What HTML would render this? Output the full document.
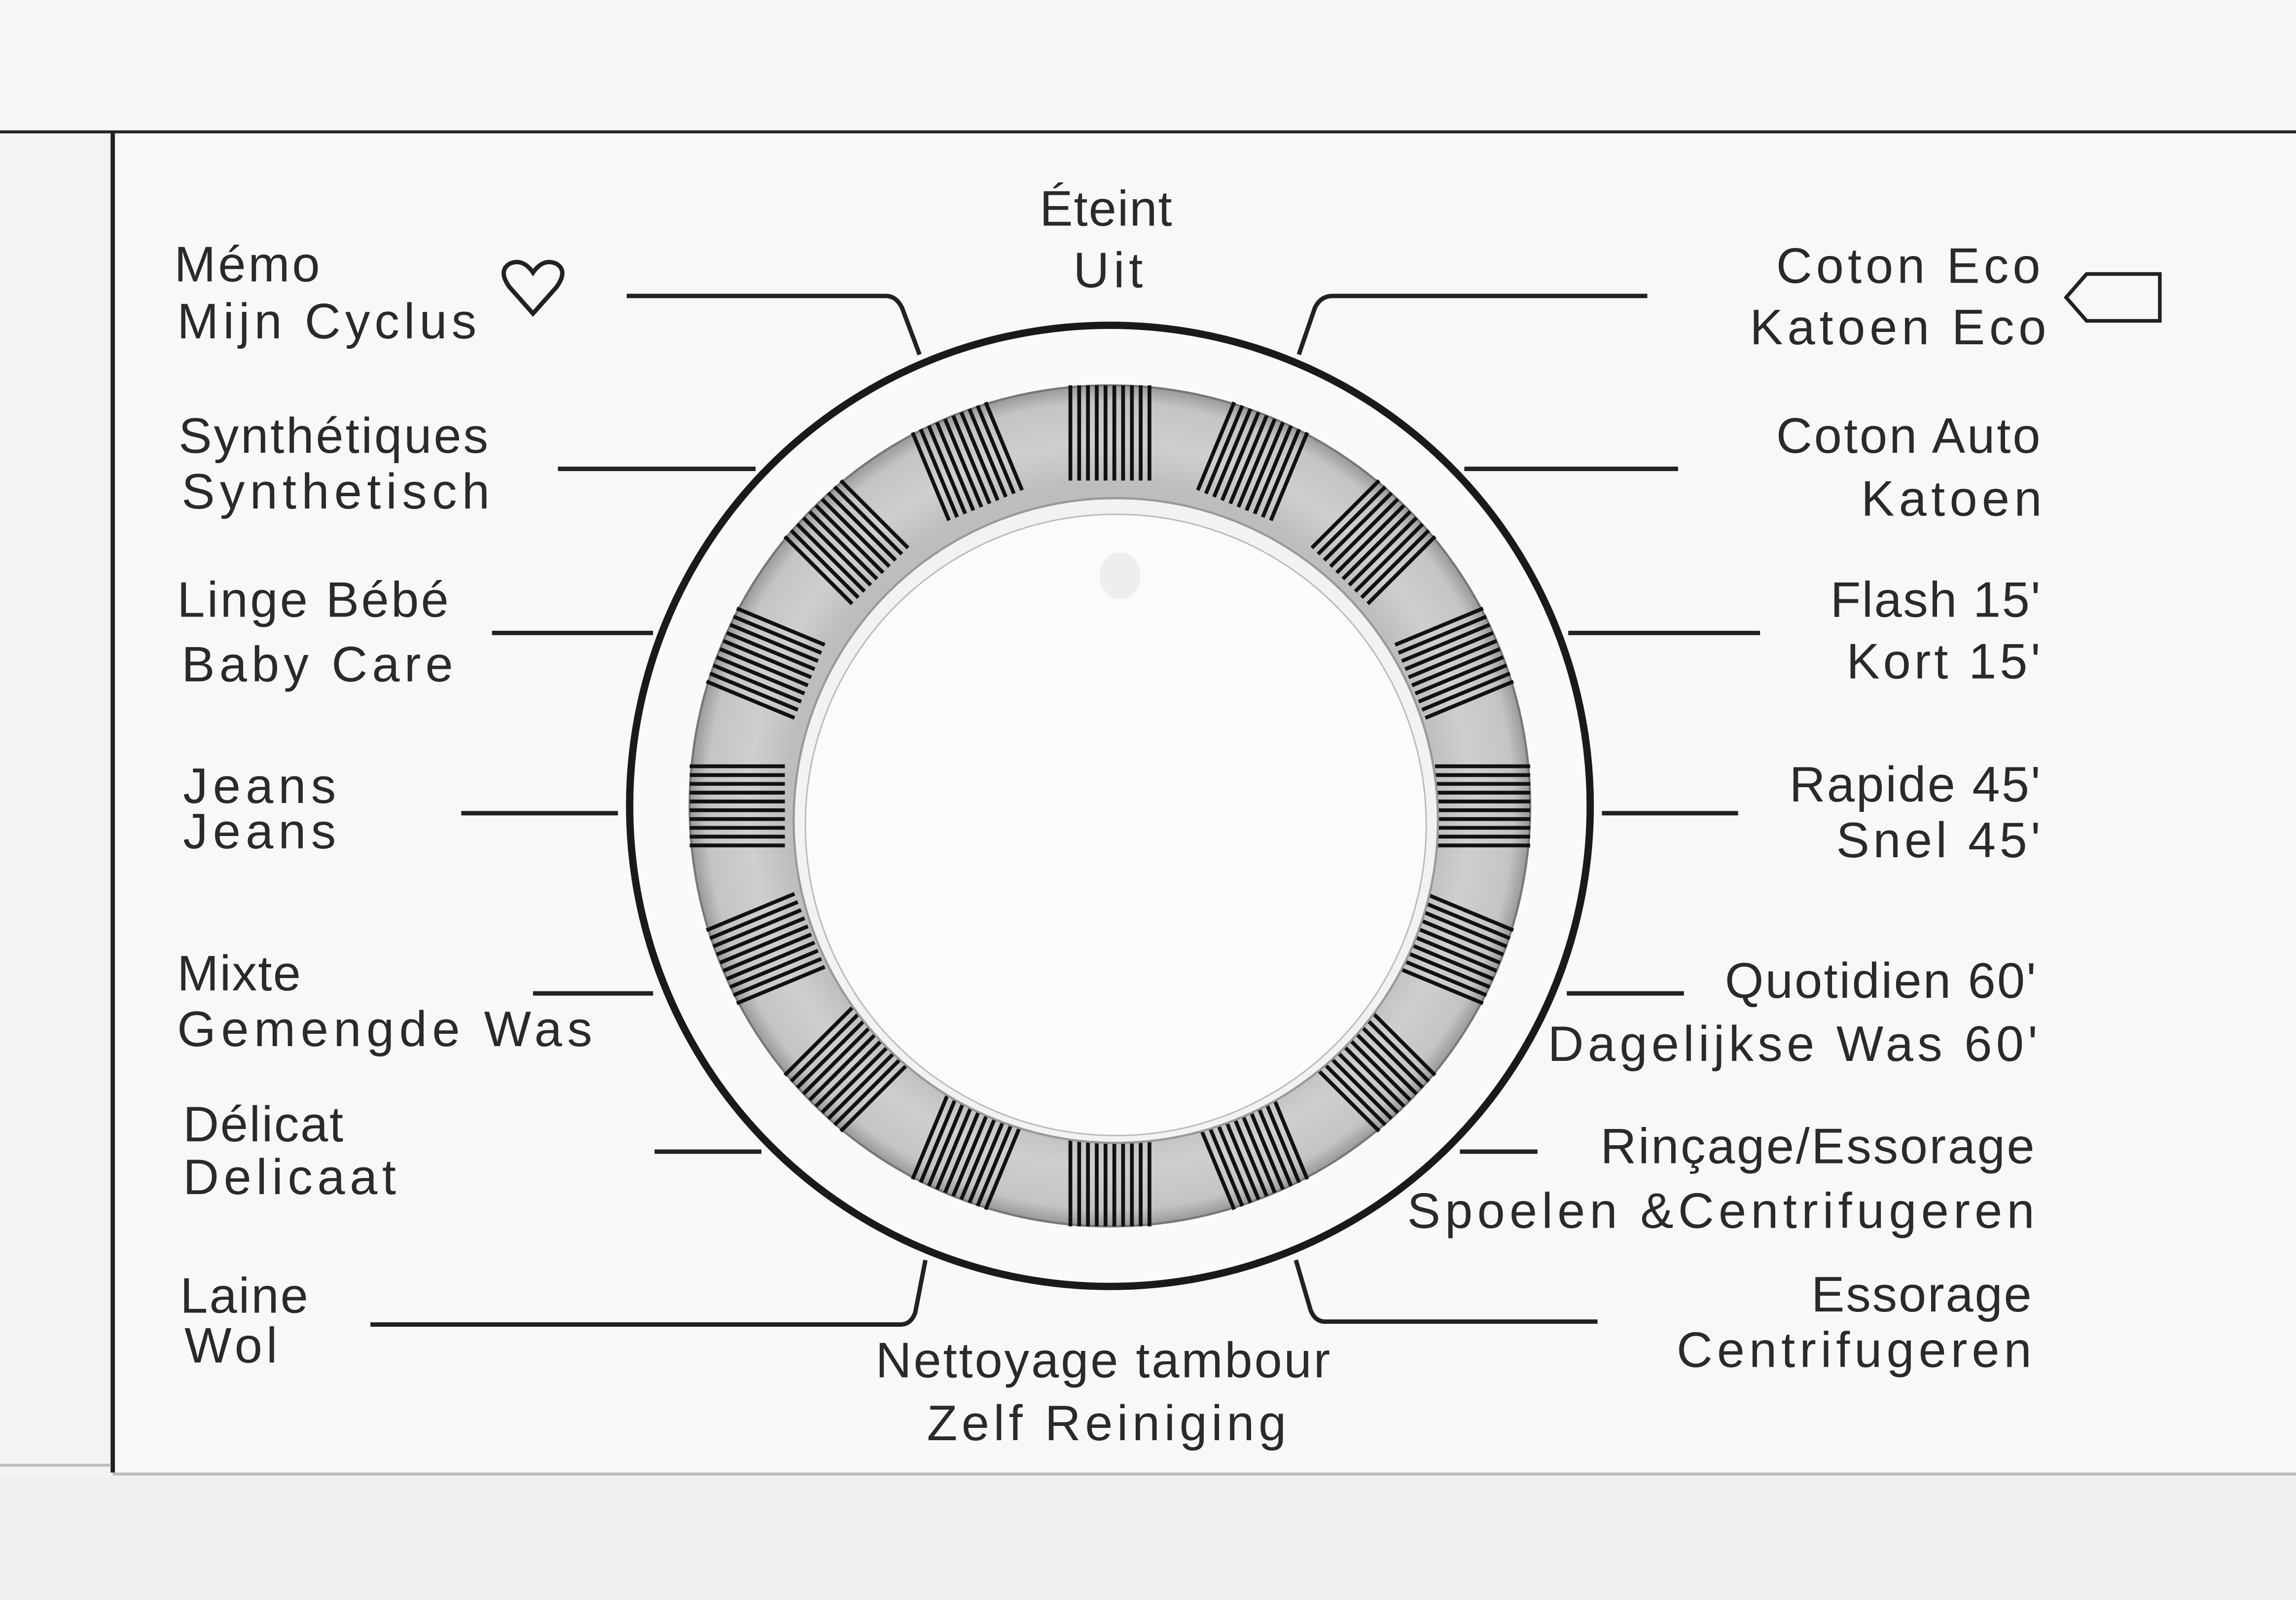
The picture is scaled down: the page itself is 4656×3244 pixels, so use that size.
<!DOCTYPE html>
<html><head><meta charset="utf-8"><style>
html,body{margin:0;padding:0;background:#f4f4f4}
svg{display:block}
text{font-family:"Liberation Sans",sans-serif;fill:#2a2a2a;font-size:34px;letter-spacing:2.6px}
</style></head><body>
<svg width="4656" height="3244" viewBox="0 0 1568 1092" preserveAspectRatio="none" xmlns="http://www.w3.org/2000/svg">
<defs>
<radialGradient id="rg" cx="758" cy="550" r="290" gradientUnits="userSpaceOnUse">
<stop offset="0.76" stop-color="#bdbdbd"/><stop offset="0.85" stop-color="#cfcfcf"/><stop offset="0.95" stop-color="#c4c4c4"/><stop offset="1" stop-color="#8e8e8e"/>
</radialGradient>
<g id="grp" stroke="#111" stroke-width="2.6">
<line x1="-27" y1="-287" x2="-27" y2="-222"/><line x1="-21" y1="-287" x2="-21" y2="-222"/><line x1="-15" y1="-287" x2="-15" y2="-222"/>
<line x1="-9" y1="-287" x2="-9" y2="-222"/><line x1="-3" y1="-287" x2="-3" y2="-222"/><line x1="3" y1="-287" x2="3" y2="-222"/>
<line x1="9" y1="-287" x2="9" y2="-222"/><line x1="15" y1="-287" x2="15" y2="-222"/><line x1="21" y1="-287" x2="21" y2="-222"/>
<line x1="27" y1="-287" x2="27" y2="-222"/>
</g>
</defs>
<rect x="0" y="0" width="1568" height="1092" fill="#f3f3f3"/>
<rect x="0" y="0" width="1568" height="88" fill="#f6f6f6"/>
<rect x="0" y="1008" width="1568" height="84" fill="#f0f0f0"/>
<rect x="77" y="91" width="1491" height="914" fill="#f8f8f8"/>
<line x1="0" y1="90" x2="1568" y2="90" stroke="#222" stroke-width="2"/>
<line x1="77" y1="91" x2="77" y2="1005" stroke="#222" stroke-width="3"/>
<line x1="77" y1="1006" x2="1568" y2="1006" stroke="#bbb" stroke-width="2"/>
<line x1="0" y1="1000" x2="75" y2="1000" stroke="#bbb" stroke-width="2"/>
<circle cx="758" cy="550" r="328" fill="#fafafa" stroke="#1a1a1a" stroke-width="5"/>
<circle cx="758" cy="550" r="287" fill="url(#rg)" stroke="#777" stroke-width="1.5"/>
<g transform="translate(758,550)">
<use href="#grp" transform="rotate(0)"/><use href="#grp" transform="rotate(22.5)"/><use href="#grp" transform="rotate(45)"/><use href="#grp" transform="rotate(67.5)"/>
<use href="#grp" transform="rotate(90)"/><use href="#grp" transform="rotate(112.5)"/><use href="#grp" transform="rotate(135)"/><use href="#grp" transform="rotate(157.5)"/>
<use href="#grp" transform="rotate(180)"/><use href="#grp" transform="rotate(202.5)"/><use href="#grp" transform="rotate(225)"/><use href="#grp" transform="rotate(247.5)"/>
<use href="#grp" transform="rotate(270)"/><use href="#grp" transform="rotate(292.5)"/><use href="#grp" transform="rotate(315)"/><use href="#grp" transform="rotate(337.5)"/>
</g>
<circle cx="762" cy="560" r="220" fill="#f2f2f2" stroke="#999" stroke-width="1.5"/>
<circle cx="762" cy="563" r="212" fill="#fbfbfb" stroke="#bbb" stroke-width="1"/>
<ellipse cx="765" cy="393" rx="14" ry="16" fill="#eee"/>
<g stroke="#222" stroke-width="3" fill="none">
<path d="M428 202 H605 Q612 202 616 210 L628 242"/>
<path d="M1125 202 H910 Q902 202 898 210 L887 242"/>
<line x1="381" y1="320" x2="516" y2="320"/>
<line x1="1000" y1="320" x2="1146" y2="320"/>
<line x1="336" y1="432" x2="446" y2="432"/>
<line x1="1071" y1="432" x2="1202" y2="432"/>
<line x1="315" y1="555" x2="422" y2="555"/>
<line x1="1094" y1="555" x2="1187" y2="555"/>
<line x1="364" y1="678" x2="446" y2="678"/>
<line x1="1070" y1="678" x2="1150" y2="678"/>
<line x1="447" y1="786" x2="520" y2="786"/>
<line x1="997" y1="786" x2="1050" y2="786"/>
<path d="M253 904 H615 Q622 904 625 896 L632 860"/>
<path d="M1091 902 H905 Q898 902 895 894 L885 860"/>
</g>
<path d="M364 214 L348 196 Q340 185 348 180 Q357 176 364 186 Q371 176 380 180 Q388 185 380 196 Z" fill="none" stroke="#222" stroke-width="3"/>
<path d="M1411 203 L1425 187 H1475 V219 H1425 Z" fill="none" stroke="#222" stroke-width="2.5"/>
<text x="119" y="192" textLength="102">Mémo</text>
<text x="121" y="231" textLength="207">Mijn Cyclus</text>
<text x="122" y="309" textLength="214">Synthétiques</text>
<text x="124" y="347" textLength="213">Synthetisch</text>
<text x="121" y="421" textLength="188">Linge Bébé</text>
<text x="124" y="465" textLength="188">Baby Care</text>
<text x="125" y="548" textLength="107">Jeans</text>
<text x="125" y="579" textLength="107">Jeans</text>
<text x="121" y="676" textLength="87">Mixte</text>
<text x="121" y="714" textLength="286">Gemengde Was</text>
<text x="125" y="779" textLength="112">Délicat</text>
<text x="125" y="815" textLength="148">Delicaat</text>
<text x="123" y="896" textLength="90">Laine</text>
<text x="126" y="930" textLength="66">Wol</text>
<text x="710" y="154" textLength="93">Éteint</text>
<text x="733" y="196" textLength="50">Uit</text>
<text x="598" y="940" textLength="313">Nettoyage tambour</text>
<text x="633" y="983" textLength="248">Zelf Reiniging</text>
<text x="1213" y="193" textLength="183">Coton  Eco</text>
<text x="1195" y="235" textLength="205">Katoen Eco</text>
<text x="1213" y="309" textLength="183">Coton Auto</text>
<text x="1271" y="352" textLength="126">Katoen</text>
<text x="1250" y="421" textLength="146">Flash 15'</text>
<text x="1261" y="463" textLength="135">Kort 15'</text>
<text x="1222" y="547" textLength="174">Rapide 45'</text>
<text x="1254" y="585" textLength="142">Snel 45'</text>
<text x="1178" y="681" textLength="215">Quotidien 60'</text>
<text x="1057" y="724" textLength="337">Dagelijkse Was 60'</text>
<text x="1093" y="794" textLength="299">Rinçage/Essorage</text>
<text x="961" y="838" textLength="431">Spoelen &amp;Centrifugeren</text>
<text x="1237" y="895" textLength="153">Essorage</text>
<text x="1145" y="933" textLength="245">Centrifugeren</text>
</svg>
</body></html>
